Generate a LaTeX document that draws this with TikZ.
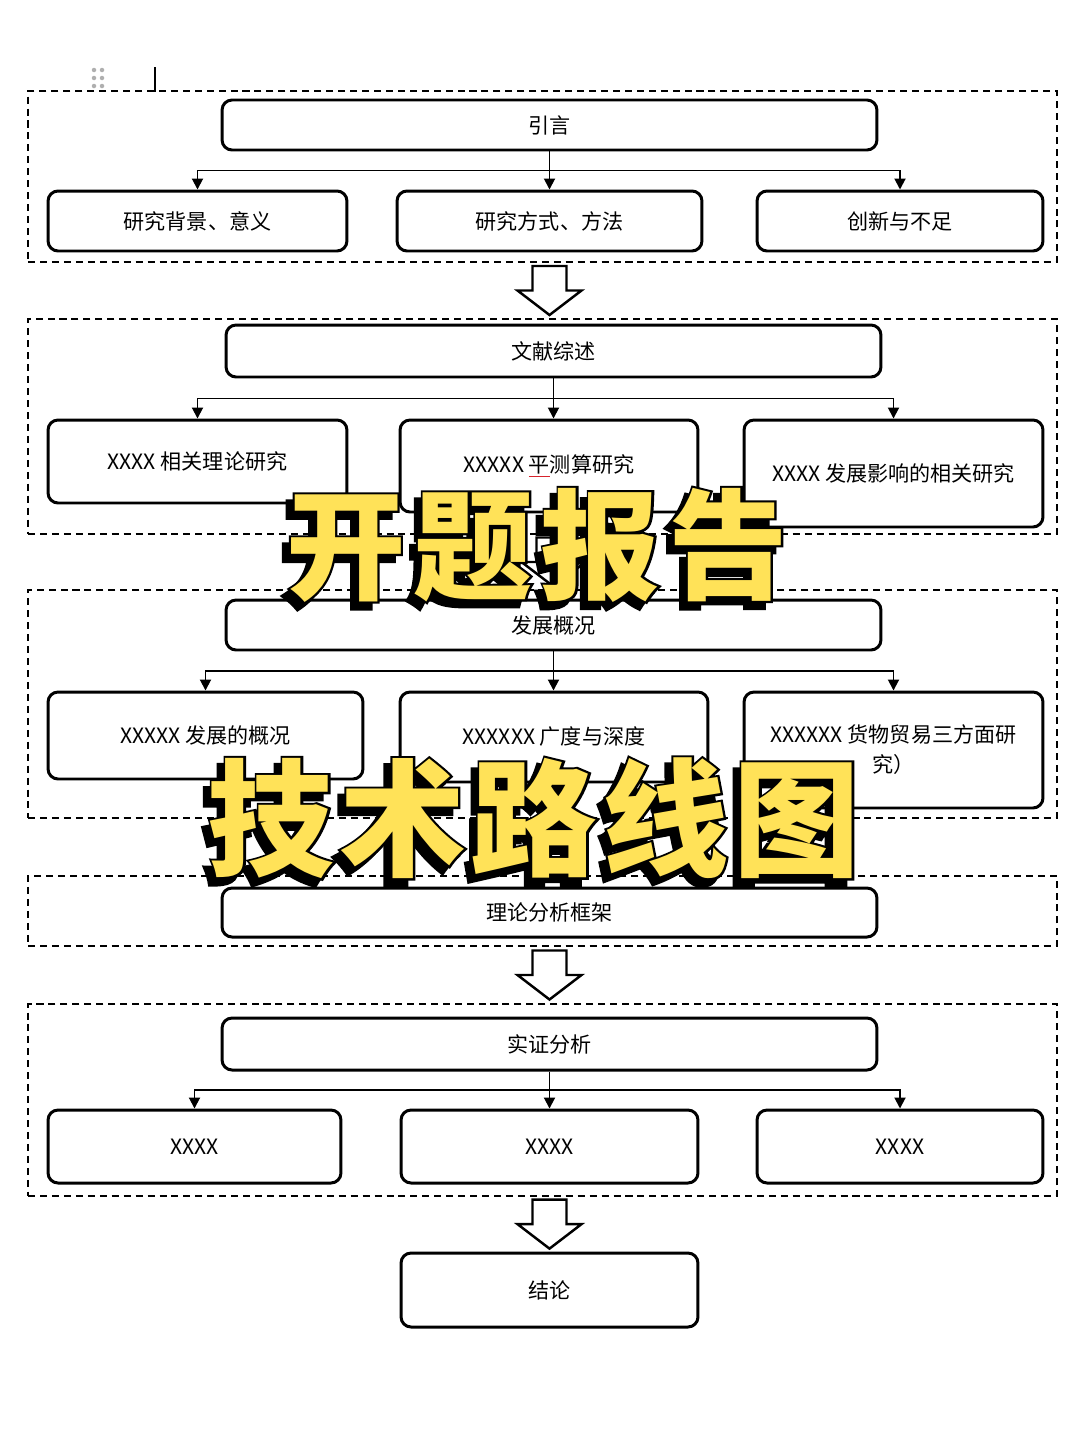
\documentclass[tikz,border=0pt]{standalone}
\usepackage{fontspec}
\setmainfont{Noto Sans CJK SC}
\newfontfamily\titleout{Noto Sans CJK SC}[BoldFeatures={FakeBold=3.5}]
\usepackage{xcolor}
\usetikzlibrary{arrows.meta, positioning, calc}
\definecolor{titleyellow}{RGB}{255, 226, 88}
\definecolor{handlegray}{RGB}{175, 175, 175}
\definecolor{spellred}{RGB}{215, 35, 45}
\newcommand\titleone{开\hspace{0.16cm}题\hspace{0.16cm}报\hspace{0.16cm}告}
\newcommand\titletwo{技\hspace{0.1cm}术\hspace{0.1cm}路\hspace{0.1cm}线\hspace{0.1cm}图}

\tikzset{
  box/.style={draw, line width=1.7pt, rounded corners=0.2cm, fill=white,
              font=\fontsize{12}{17}\selectfont, align=center, inner sep=2pt},
  grp/.style={draw, line width=0.85pt, dash pattern=on 4pt off 2.8pt, inner sep=0pt},
  conn/.style={line width=1.1pt, -{Triangle[length=2.2mm, width=2.2mm]}},
  titletxt/.style={font=\bfseries\fontsize{#1}{#1}\selectfont, inner sep=0pt, text=titleyellow},
  titleedge/.style={font=\titleout\bfseries\fontsize{#1}{#1}\selectfont, inner sep=0pt, text=black},
  pics/bigarrow/.style={code={
    \draw[line width=1.4pt, fill=white] (-17,-24.5) -- (17,-24.5) -- (17,0) -- (32,0)
      -- (0,24.5) -- (-32,0) -- (-17,0) -- cycle;}},
}

\begin{document}
\begin{tikzpicture}[x=0.02cm, y=-0.02cm]
    \useasboundingbox[fill=white] (0,0) rectangle (1080,1440);

    % dashed groups
    \node[grp, minimum width=20.58cm, minimum height=3.42cm] (g1) at (542.5,176.5) {};
    \node[grp, minimum width=20.58cm, minimum height=4.30cm] (g2) at (542.5,426.5) {};
    \node[grp, minimum width=20.58cm, minimum height=4.56cm] (g3) at (542.5,704) {};
    \node[grp, minimum width=20.58cm, minimum height=1.40cm] (g4) at (542.5,911) {};
    \node[grp, minimum width=20.58cm, minimum height=3.84cm] (g5) at (542.5,1100) {};

    % editor handle and cursor
    \foreach \hx in {94,102}
      \foreach \hy in {70,78,86}
        \fill[handlegray] (\hx,\hy) circle (0.045cm);
    \draw[line width=1.3pt] (155,67) -- (155,92);

    % intro
    \node[box, minimum width=13.1cm, minimum height=1.0cm] (intro) at (549.5,125) {引言};
    \node[box, minimum width=5.98cm, minimum height=1.2cm] (bg) at (197.5,221) {研究背景、意义};
    \node[box, minimum width=6.1cm, minimum height=1.2cm] (meth) at (549.5,221) {研究方式、方法};
    \node[box, minimum width=5.72cm, minimum height=1.2cm] (innov) at (900,221) {创新与不足};

    % literature
    \node[box, minimum width=13.1cm, minimum height=1.04cm] (lit) at (553.5,351) {文献综述};
    \node[box, minimum width=5.98cm, minimum height=1.66cm] (theo) at (197.5,461.5) {XXXX 相关理论研究};
    \node[box, minimum width=5.96cm, minimum height=1.84cm] (calc) at (549,466)
      {XXXXX {\color{spellred}\underline{\color{black}平}}测算研究};
    \node[box, minimum width=5.98cm, minimum height=2.14cm] (infl) at (893.5,473.5) {XXXX 发展影响的相关研究};

    % overview
    \node[box, minimum width=13.1cm, minimum height=1.0cm] (over) at (553.5,625) {发展概况};
    \node[box, minimum width=6.3cm, minimum height=1.74cm] (devo) at (205.5,735.5) {XXXXX 发展的概况};
    \node[box, minimum width=6.16cm, minimum height=1.8cm] (depth) at (554,737) {XXXXXX 广度与深度};
    \node[box, minimum width=5.98cm, minimum height=2.32cm] (trade) at (893.5,750)
      {XXXXXX 货物贸易三方面研\\究）};

    % framework
    \node[box, minimum width=13.1cm, minimum height=0.98cm] (frame) at (549.5,912.5) {理论分析框架};

    % empirical
    \node[box, minimum width=13.1cm, minimum height=1.04cm] (emp) at (549.5,1044) {实证分析};
    \node[box, minimum width=5.86cm, minimum height=1.46cm] (ea) at (194.5,1146.5) {XXXX};
    \node[box, minimum width=5.94cm, minimum height=1.46cm] (eb) at (549.5,1146.5) {XXXX};
    \node[box, minimum width=5.72cm, minimum height=1.46cm] (ec) at (900,1146.5) {XXXX};

    % conclusion
    \node[box, minimum width=5.94cm, minimum height=1.48cm] (concl) at (549.5,1290) {结论};

    % branch connectors
    \foreach \p/\l/\m/\r in {intro/bg/meth/innov, lit/theo/calc/infl, over/devo/depth/trade, emp/ea/eb/ec} {
      \coordinate (bar) at ($(\p.south)!0.5!(\p.south |- \m.north)$);
      \draw[conn] (\p.south) -- (\p.south |- \m.north);
      \draw[conn] (bar) -| (\l);
      \draw[conn] (bar) -| (\r);
    }

    % hollow arrows between groups
    \pic at ($(intro.south |- g1.south)!0.5!(intro.south |- g2.north)$) {bigarrow};
    \pic at ($(lit.south |- g2.south)!0.5!(lit.south |- g3.north)$) {bigarrow};
    \pic at ($(frame.north |- g3.south)!0.5!(frame.north |- g4.north)$) {bigarrow};
    \pic at ($(frame.south |- g4.south)!0.5!(frame.south |- g5.north)$) {bigarrow};
    \pic at ($(emp.south |- g5.south)!0.5!(emp.south |- concl.north)$) {bigarrow};

    % title overlay: shadow, outline, fill
    \coordinate (t1c) at (537,545);
    \coordinate (t2c) at (534,818);
    \node[titleedge=68] (t1s) at ($(t1c)+(-7,7)$) {\titleone};
    \node[titleedge=68] (t1o) at (t1c) {\titleone};
    \node[titletxt=68] (t1) at (t1c) {\titleone};
    \node[titleedge=72] (t2s) at ($(t2c)+(-7,7)$) {\titletwo};
    \node[titleedge=72] (t2o) at (t2c) {\titletwo};
    \node[titletxt=72] (t2) at (t2c) {\titletwo};
\end{tikzpicture}
\end{document}
